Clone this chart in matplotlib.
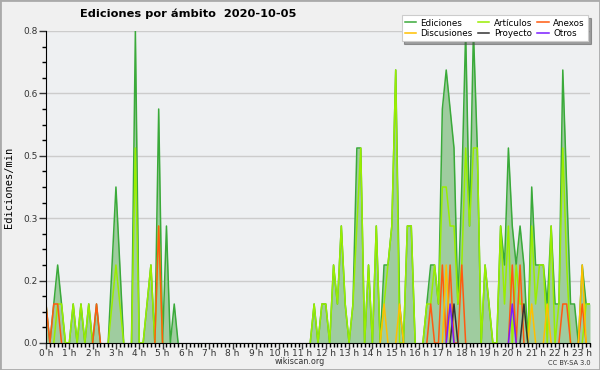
import matplotlib
matplotlib.use("Agg")
import matplotlib.pyplot as plt
import numpy as np
from matplotlib.patches import Rectangle

# one value every 10 minutes, from 0:00 to 23:20
ediciones = [0.1, 0, 0.1, 0.2, 0.1, 0, 0, 0.1, 0, 0.1, 0, 0.1, 0, 0.1, 0, 0, 0, 0.2, 0.4, 0.2,
             0, 0, 0, 0.8, 0, 0, 0.1, 0.2, 0, 0.6, 0, 0.3, 0, 0.1, 0, 0, 0, 0, 0, 0,
             0, 0, 0, 0, 0, 0, 0, 0, 0, 0, 0, 0, 0, 0, 0, 0, 0, 0, 0, 0,
             0, 0, 0, 0, 0, 0, 0, 0, 0, 0.1, 0, 0.1, 0.1, 0, 0.2, 0.1, 0.3, 0.1, 0, 0.1,
             0.5, 0.5, 0, 0.2, 0, 0.3, 0, 0.2, 0.2, 0.3, 0.7, 0.1, 0, 0.3, 0.3, 0, 0, 0, 0.1, 0.2,
             0.2, 0.1, 0.6, 0.7, 0.6, 0.5, 0.1, 0.4, 0.8, 0.3, 0.8, 0.5, 0, 0.2, 0.1, 0, 0, 0.3, 0.2, 0.5,
             0.3, 0.2, 0.3, 0.2, 0, 0.4, 0.2, 0.2, 0.2, 0.1, 0.3, 0.1, 0.1, 0.7, 0.4, 0.1, 0.1, 0, 0.2, 0.1,
             0.1]
articulos = [0, 0, 0, 0.1, 0.1, 0, 0, 0.1, 0, 0.1, 0, 0.1, 0, 0, 0, 0, 0, 0.1, 0.2, 0.1,
             0, 0, 0, 0.5, 0, 0, 0.1, 0.2, 0, 0.3, 0, 0, 0, 0, 0, 0, 0, 0, 0, 0,
             0, 0, 0, 0, 0, 0, 0, 0, 0, 0, 0, 0, 0, 0, 0, 0, 0, 0, 0, 0,
             0, 0, 0, 0, 0, 0, 0, 0, 0, 0.1, 0, 0.1, 0.1, 0, 0.2, 0.1, 0.3, 0.1, 0, 0.1,
             0.3, 0.5, 0, 0.2, 0, 0.3, 0, 0.1, 0.2, 0.3, 0.7, 0, 0, 0.3, 0.3, 0, 0, 0, 0.1, 0.1,
             0.2, 0.1, 0.4, 0.4, 0.3, 0.3, 0.1, 0.2, 0.5, 0.3, 0.5, 0.5, 0, 0.2, 0.1, 0, 0, 0.3, 0.1, 0.3,
             0, 0.2, 0.1, 0.1, 0, 0.3, 0.1, 0.2, 0.2, 0, 0.3, 0, 0.1, 0.5, 0.2, 0, 0, 0, 0, 0.1,
             0.1]
# sparse series: {bin index: value}
anexos_pts = {0: 0.1, 2: 0.1, 3: 0.1, 13: 0.1, 29: 0.3, 99: 0.1, 102: 0.2, 104: 0.2,
              107: 0.2, 120: 0.2, 122: 0.2, 133: 0.1, 134: 0.1, 138: 0.1}
discusiones_pts = {87: 0.1, 91: 0.1, 103: 0.2, 125: 0.1, 129: 0.1, 138: 0.2}
proyecto_pts = {105: 0.1, 123: 0.1}
otros_pts = {104: 0.1, 120: 0.1}

n = len(ediciones)
hours = np.arange(n) / 6.0


def expand(pts):
    arr = np.zeros(n)
    for k, v in pts.items():
        arr[k] = v
    return arr


def hide_zero_runs(arr):
    # don't draw the line along the axis where nothing happens
    arr = np.asarray(arr, dtype=float)
    padded = np.concatenate([[0], arr, [0]])
    keep = (padded[:-2] > 0) | (padded[1:-1] > 0) | (padded[2:] > 0)
    return np.where(keep, arr, np.nan)


anexos = expand(anexos_pts)
discusiones = expand(discusiones_pts)
proyecto = expand(proyecto_pts)
otros = expand(otros_pts)

fig = plt.figure(figsize=(6, 3.7), dpi=100, facecolor='#f0f0f0')
fig.patches.append(Rectangle((0, 0), 1, 1, transform=fig.transFigure, fill=False,
                             edgecolor='#aaaaaa', linewidth=2))
ax = fig.add_axes([46/600, 27/370, 544/600, 312/370])
ax.set_facecolor('#eef0f2')

ax.fill_between(hours, ediciones, color='#9fcc9f', linewidth=0)
ax.plot(hours, hide_zero_runs(ediciones), color='#3aaa3a', lw=1.1, label='Ediciones')
ax.plot(hours, hide_zero_runs(articulos), color='#99ee00', lw=1.1, label='Artículos')
ax.plot(hours, hide_zero_runs(anexos), color='#ff5a10', lw=1.1, label='Anexos')
ax.plot(hours, hide_zero_runs(discusiones), color='#ffc000', lw=1.1, label='Discusiones')
ax.plot(hours, hide_zero_runs(proyecto), color='#333333', lw=1.1, label='Proyecto')
ax.plot(hours, hide_zero_runs(otros), color='#7a1cff', lw=1.1, label='Otros')

ax.set_xlim(0, hours[-1])
ax.set_ylim(0, 0.8)
yt = [0, 0.16, 0.32, 0.48, 0.64, 0.8]
ax.set_yticks(yt)
ax.set_yticklabels(['%.1f' % v for v in yt])
ax.set_yticks(np.arange(0, 0.81, 0.04), minor=True)
ax.set_xticks(range(24))
ax.set_xticklabels(['%d h' % h for h in range(24)])
ax.set_xticks(np.arange(0, hours[-1] + 0.01, 1/6), minor=True)
ax.grid(axis='y', which='major', color='#cccccc', lw=1)
ax.set_axisbelow(True)
for s in ['top', 'right']:
    ax.spines[s].set_visible(False)
ax.tick_params(which='major', length=5, width=1, labelsize=6.5, colors='#333333', pad=1)
ax.tick_params(axis='x', which='major', length=4, pad=0.5)
ax.tick_params(which='minor', length=3, width=1)
ax.set_ylabel('Ediciones/min', family='DejaVu Sans Mono', fontsize=7.5, labelpad=7)

fig.text(0.313, 0.962, 'Ediciones por ámbito  2020-10-05', ha='center', va='center',
         fontsize=8.2, fontweight='bold')
fig.text(0.5, 0.022, 'wikiscan.org', ha='center', va='center', fontsize=5.8, color='#333333')
fig.text(0.985, 0.020, 'CC BY-SA 3.0', ha='right', va='center', fontsize=4.8, color='#333333')

h, l = ax.get_legend_handles_labels()
order = [0, 3, 1, 4, 2, 5]
leg = fig.legend([h[i] for i in order], [l[i] for i in order], ncol=3, loc='upper right',
                 bbox_to_anchor=(0.987, 0.97), fontsize=6.3, frameon=True, fancybox=False,
                 shadow=True, handlelength=1.3, handletextpad=0.5, columnspacing=0.6,
                 labelspacing=0.15, borderpad=0.35)
leg.get_frame().set_edgecolor('#cccccc')
leg.get_frame().set_linewidth(0.8)

fig.savefig('out.png', dpi=100, facecolor=fig.get_facecolor())
